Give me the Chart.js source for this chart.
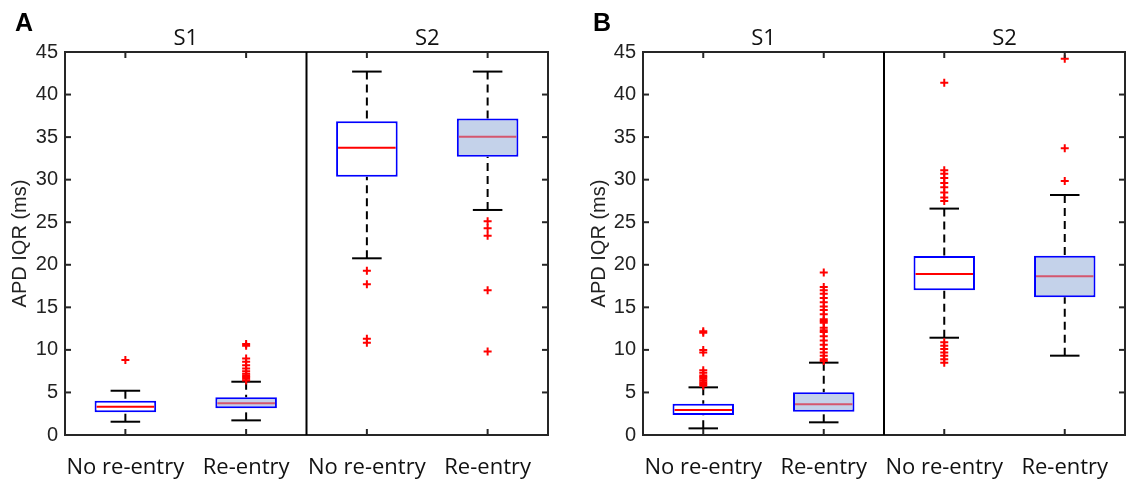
<!DOCTYPE html>
<html>
<head>
<meta charset="utf-8">
<script src="https://cdn.jsdelivr.net/npm/chart.js@4.4.1/dist/chart.umd.min.js"></script>
<style>
  html, body { margin: 0; padding: 0; background: #fff; }
  #wrap { position: relative; width: 1131px; height: 482px; }
  canvas { position: absolute; top: 0; }
</style>
</head>
<body>
<div id="wrap">
  <canvas id="panelA" width="578" height="482" style="left:0px"></canvas>
  <canvas id="panelB" width="553" height="482" style="left:578px"></canvas>
</div>
<script>
const categories = ['S1 No re-entry', 'S1 Re-entry', 'S2 No re-entry', 'S2 Re-entry'];
const tickLabels = ['No re-entry', 'Re-entry', 'No re-entry', 'Re-entry'];
const groupTitles = ['S1', 'S2'];
const yTicks = [0, 5, 10, 15, 20, 25, 30, 35, 40, 45];

// panel A
const aLow = [1.56, 1.72, 20.76, 26.44];
const aQ1 = [2.67, 3.14, 30.35, 32.7];
const aMedian = [3.33, 3.72, 33.76, 35.05];
const aQ3 = [4.03, 4.43, 36.86, 37.2];
const aHigh = [5.2, 6.26, 42.7, 42.7];
const aOutliers = [
  [8.8],
  [10.7, 10.5, 9.0, 8.6, 8.2, 7.8, 7.5, 7.2, 7.0, 6.8, 6.6, 6.4],
  [19.3, 17.7, 11.3, 10.85],
  [25.1, 24.3, 23.4, 17.0, 9.8]
];

// panel B
const bLow = [0.78, 1.49, 11.43, 9.32];
const bQ1 = [2.35, 2.74, 17.0, 16.18];
const bMedian = [2.94, 3.6, 18.92, 18.64];
const bQ3 = [3.68, 5.01, 21.03, 21.07];
const bHigh = [5.6, 8.5, 26.6, 28.2];
const bOutliers = [
  [12.2, 12.0, 10.0, 9.7, 7.6, 7.3, 7.0, 6.8, 6.6, 6.4, 6.2, 6.0, 5.8],
  [19.1, 17.4, 17.0, 16.6, 16.1, 15.6, 15.1, 14.7, 14.2, 13.6, 13.4, 13.2, 12.6, 12.3, 12.1,
   11.6, 11.1, 10.6, 10.1, 9.7, 9.3, 8.9, 8.7],
  [41.4, 31.1, 30.7, 30.2, 29.6, 29.1, 28.5, 27.9, 27.5, 10.9, 10.5, 10.1, 9.7, 9.3, 8.9, 8.5],
  [44.2, 33.7, 29.85]
];

const AXIS = '#262626';
const boxFill = ['#ffffff', '#c4d2ea', '#ffffff', '#c4d2ea'];
const medianColor = ['#ff0000', '#d4566e', '#ff0000', '#d4566e'];

function line(ctx, x1, y1, x2, y2) {
  ctx.beginPath();
  ctx.moveTo(x1, y1);
  ctx.lineTo(x2, y2);
  ctx.stroke();
}

function extras(s) {
  return {
    id: 'boxExtras',
    beforeDatasetsDraw(chart) {
      const ctx = chart.ctx, y = chart.scales.y;
      const meta = chart.getDatasetMeta(1);
      ctx.save();
      ctx.strokeStyle = '#000';
      ctx.lineWidth = 2;
      meta.data.forEach((bar, i) => {
        const x = bar.x, cap = bar.width * 0.24;
        ctx.setLineDash([8, 5]);
        line(ctx, x, y.getPixelForValue(s.high[i]), x, y.getPixelForValue(s.q3[i]));
        line(ctx, x, y.getPixelForValue(s.low[i]), x, y.getPixelForValue(s.q1[i]));
        ctx.setLineDash([]);
        line(ctx, x - cap, y.getPixelForValue(s.high[i]), x + cap, y.getPixelForValue(s.high[i]));
        line(ctx, x - cap, y.getPixelForValue(s.low[i]), x + cap, y.getPixelForValue(s.low[i]));
      });
      ctx.restore();
    },
    afterDatasetsDraw(chart) {
      const ctx = chart.ctx, y = chart.scales.y;
      const meta = chart.getDatasetMeta(1);
      ctx.save();
      ctx.lineWidth = 2;
      meta.data.forEach((bar, i) => {
        const half = bar.width / 2 - 2;
        ctx.strokeStyle = medianColor[i];
        const py = y.getPixelForValue(s.median[i]);
        line(ctx, bar.x - half, py, bar.x + half, py);
      });
      ctx.restore();
    },
    afterDraw(chart) {
      const ctx = chart.ctx, a = chart.chartArea;
      const x = chart.scales.x, y = chart.scales.y;
      const mid = x.getPixelForValue(1.5);
      const t = 6;
      ctx.save();
      ctx.strokeStyle = AXIS;
      ctx.lineWidth = 2;
      ctx.strokeRect(a.left, a.top, a.right - a.left, a.bottom - a.top);
      ctx.strokeStyle = '#000';
      line(ctx, mid, a.top, mid, a.bottom);
      ctx.strokeStyle = AXIS;
      yTicks.forEach(v => {
        const py = y.getPixelForValue(v);
        line(ctx, a.left, py, a.left + t, py);
        line(ctx, a.right, py, a.right - t, py);
      });
      categories.forEach((c, i) => {
        const px = x.getPixelForValue(i);
        line(ctx, px, a.top, px, a.top + t);
        line(ctx, px, a.bottom, px, a.bottom - t);
      });
      ctx.fillStyle = '#111';
      ctx.textAlign = 'center';
      ctx.textBaseline = 'middle';
      ctx.font = '22px "Open Sans"';
      ctx.fillText(groupTitles[0], x.getPixelForValue(0.5), a.top - 13);
      ctx.fillText(groupTitles[1], x.getPixelForValue(2.5), a.top - 13);
      ctx.fillStyle = '#000';
      ctx.font = 'bold 25px "Liberation Sans", Arial';
      ctx.fillText(s.letter, a.left - 41, 24);
      ctx.restore();
    }
  };
}

function makePanel(id, s, padRight, titlePad) {
  const outlierPoints = [];
  s.outliers.forEach((list, i) => list.forEach(v => outlierPoints.push({ x: categories[i], y: v })));
  const boxes = categories.map((c, i) => [s.q1[i], s.q3[i]]);

  return new Chart(document.getElementById(id), {
    type: 'bar',
    data: {
      labels: categories,
      datasets: [{
        type: 'scatter',
        data: outlierPoints,
        pointStyle: 'cross',
        pointRadius: 4,
        pointHoverRadius: 4,
        borderColor: '#ff0000',
        backgroundColor: '#ff0000',
        borderWidth: 2,
        order: 1
      }, {
        data: boxes,
        backgroundColor: boxFill,
        borderColor: '#0000ff',
        borderWidth: 2,
        borderSkipped: false,
        barPercentage: 0.51,
        categoryPercentage: 1,
        order: 2
      }]
    },
    options: {
      responsive: false,
      animation: false,
      layout: { padding: { left: 0, top: 52, right: padRight, bottom: 0 } },
      plugins: { legend: { display: false }, tooltip: { enabled: false } },
      scales: {
        x: {
          type: 'category',
          grid: { display: false, drawTicks: false },
          border: { display: false },
          afterFit(scale) { scale.height = 47; },
          ticks: {
            autoSkip: false,
            maxRotation: 0,
            padding: 20,
            color: '#111',
            font: { family: '"Open Sans"', size: 22 },
            callback: (v, i) => tickLabels[i]
          }
        },
        y: {
          min: 0,
          max: 45,
          grid: { display: false, drawTicks: false },
          border: { display: false },
          afterFit(scale) { scale.width = 65; },
          afterBuildTicks(scale) { scale.ticks = yTicks.map(v => ({ value: v })); },
          ticks: {
            padding: 7,
            color: '#222',
            font: { family: '"Liberation Sans", Arial', size: 20 }
          },
          title: {
            display: true,
            text: 'APD IQR (ms)',
            color: '#222',
            font: { family: '"Liberation Sans", Arial', size: 20 },
            padding: { top: titlePad, bottom: 0 }
          }
        }
      }
    },
    plugins: [extras(s)]
  });
}

makePanel('panelA', {
  letter: 'A', low: aLow, q1: aQ1, median: aMedian, q3: aQ3, high: aHigh, outliers: aOutliers
}, 30, 8);
makePanel('panelB', {
  letter: 'B', low: bLow, q1: bQ1, median: bMedian, q3: bQ3, high: bHigh, outliers: bOutliers
}, 3, 9);
</script>
</body>
</html>
